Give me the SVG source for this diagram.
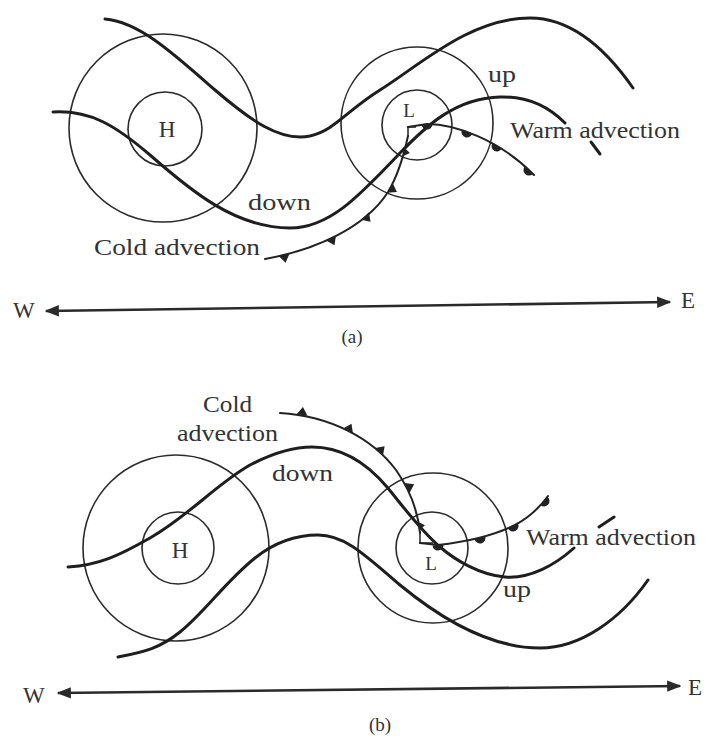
<svg xmlns="http://www.w3.org/2000/svg" width="706" height="738" viewBox="0 0 706 738">
<defs>
<style>
.bg{fill:#ffffff}
.ring{fill:none;stroke:#2a2a2a;stroke-width:1.6}
.flow{fill:none;stroke:#1e1e1e;stroke-width:3;stroke-linecap:round}
.front{fill:none;stroke:#222;stroke-width:2;stroke-linecap:round}
.mark{fill:none;stroke:#222;stroke-width:1.5}
.axis{fill:none;stroke:#2a2a2a;stroke-width:2.6}
.sym{fill:#222;stroke:none}
text{font-family:"Liberation Serif","Times New Roman",serif;fill:#333;font-size:23px}
.small{font-size:19px}
.cap{font-size:19px}
</style>
<marker id="ah" viewBox="0 0 10 10" refX="9" refY="5" markerWidth="5.5" markerHeight="5.5" orient="auto-start-reverse" markerUnits="strokeWidth">
<path d="M0,1 L10,5 L0,9 Z" fill="#2a2a2a"/>
</marker>
<polygon id="triD" points="-5.5,0 5.5,0 0,8"/>
<polygon id="triU" points="-5.5,0 5.5,0 0,-8"/>
<path id="semiD" d="M-5.5,0 A5.5,5.5 0 0 0 5.5,0 Z"/>
</defs>
<rect class="bg" x="0" y="0" width="706" height="738"/>

<g id="nodes-a">
<g id="high-a">
<circle class="ring" cx="163" cy="128" r="94"/>
<circle class="ring" cx="165" cy="129" r="37"/>
<text x="167" y="137" text-anchor="middle" font-size="22">H</text>
</g>
<g id="low-a">
<circle class="ring" cx="417" cy="123" r="76"/>
<circle class="ring" cx="417" cy="125" r="35"/>
<text class="small" x="409" y="117" text-anchor="middle">L</text>
</g>
</g>

<g id="nodes-b">
<g id="high-b">
<circle class="ring" cx="176" cy="548" r="93"/>
<circle class="ring" cx="178" cy="548" r="36"/>
<text x="180" y="558" text-anchor="middle" font-size="22">H</text>
</g>
<g id="low-b">
<circle class="ring" cx="433" cy="548" r="75"/>
<circle class="ring" cx="432" cy="548" r="36"/>
<text class="small" x="431" y="570" text-anchor="middle">L</text>
</g>
</g>

<g id="connectors">
<path class="flow" d="M105,19 C140,22 175,55 215,90 C250,120 280,142 310,136 C335,130 345,112 380,90 C420,65 470,18 530,18 C575,18 610,55 633,88"/>
<path class="flow" d="M53,112 C90,110 115,125 150,155 C190,190 235,228 290,228 C330,228 360,195 400,153 C425,127 455,98 500,97 C530,96 550,108 565,123"/>
<path class="flow" d="M591,142 L600,154"/>
<path class="front" d="M265,259 C315,250 365,228 388,192 C400,172 405,150 408,136"/>
<g class="sym">
<use href="#triD" transform="translate(284,255) rotate(-11)"/>
<use href="#triD" transform="translate(331,238) rotate(-26)"/>
<use href="#triD" transform="translate(365,216) rotate(-44)"/>
<use href="#triD" transform="translate(390,188) rotate(-60)"/>
<use href="#triD" transform="translate(404,152) rotate(-80) scale(0.75)"/>
</g>
<polyline class="mark" points="408,137 408,127 416,127"/>
<path class="front" d="M408,127 L427,124 C455,124 500,140 534,175"/>
<g class="sym">
<use href="#semiD" transform="translate(427,124) rotate(0)"/>
<use href="#semiD" transform="translate(467,132) rotate(17)"/>
<use href="#semiD" transform="translate(497,146) rotate(31)"/>
<use href="#semiD" transform="translate(529,170) rotate(45)"/>
</g>

<path class="flow" d="M68,567 C100,565 120,555 150,538 C190,515 215,485 250,465 C275,452 295,447 312,447 C345,447 370,467 387,487 C402,505 420,530 440,547 C455,560 480,575 505,577 C530,579 555,565 574,548"/>
<path class="flow" d="M118,657 C145,652 160,648 180,632 C205,612 225,582 255,558 C275,542 295,535 318,535 C345,535 365,555 400,585 C440,618 490,648 540,648 C580,648 620,620 648,580"/>
<path class="flow" d="M599,527 L614,517"/>
<path class="front" d="M280,413 C330,416 372,438 396,470 C410,490 418,512 420,533"/>
<g class="sym">
<use href="#triU" transform="translate(302,415) rotate(7)"/>
<use href="#triU" transform="translate(348,431) rotate(26)"/>
<use href="#triU" transform="translate(379,452) rotate(45)"/>
<use href="#triU" transform="translate(407,488) rotate(63)"/>
<use href="#triU" transform="translate(419,526) rotate(82) scale(0.75)"/>
</g>
<polyline class="mark" points="420,531 420,543 433,543"/>
<path class="front" d="M420,543 L438,545 C465,542 495,535 515,525 C530,517 540,507 548,496"/>
<g class="sym">
<use href="#semiD" transform="translate(438,545) rotate(-4)"/>
<use href="#semiD" transform="translate(480,538) rotate(-12)"/>
<use href="#semiD" transform="translate(513,526) rotate(-28)"/>
<use href="#semiD" transform="translate(544,501) rotate(-50)"/>
</g>

<line class="axis" x1="46" y1="311" x2="670" y2="302" marker-start="url(#ah)" marker-end="url(#ah)"/>
<line class="axis" x1="58" y1="693" x2="680" y2="686" marker-start="url(#ah)" marker-end="url(#ah)"/>
</g>

<g id="labels-a">
<text x="488" y="82" textLength="28" lengthAdjust="spacingAndGlyphs">up</text>
<text x="510" y="138" textLength="170" lengthAdjust="spacingAndGlyphs">Warm advection</text>
<text x="248" y="210" textLength="63" lengthAdjust="spacingAndGlyphs">down</text>
<text x="94" y="255" textLength="166" lengthAdjust="spacingAndGlyphs">Cold advection</text>
<text x="13" y="318" font-size="21">W</text>
<text x="681" y="308" font-size="21">E</text>
<text class="cap" x="352" y="343" text-anchor="middle">(a)</text>
</g>

<g id="labels-b">
<text x="203" y="412" textLength="49" lengthAdjust="spacingAndGlyphs">Cold</text>
<text x="177" y="441" textLength="101" lengthAdjust="spacingAndGlyphs">advection</text>
<text x="272" y="481" textLength="61" lengthAdjust="spacingAndGlyphs">down</text>
<text x="526" y="545" textLength="170" lengthAdjust="spacingAndGlyphs">Warm advection</text>
<text x="503" y="597" textLength="28" lengthAdjust="spacingAndGlyphs">up</text>
<text x="23" y="703" font-size="21">W</text>
<text x="688" y="695" font-size="21">E</text>
<text class="cap" x="380" y="731" text-anchor="middle">(b)</text>
</g>
</svg>
